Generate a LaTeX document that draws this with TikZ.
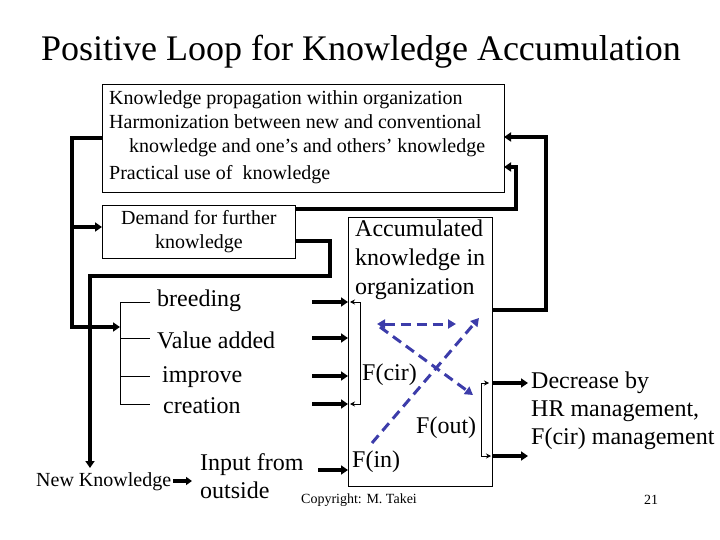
\documentclass[tikz,border=0pt]{standalone}
\usepackage{fontspec}
\setmainfont{Liberation Serif}
\usetikzlibrary{arrows.meta}
\begin{document}
\begin{tikzpicture}[x=1pt,y=-1pt,
  thick line/.style={line width=4pt,-{Triangle[length=7pt,width=9pt]}},
  boxst/.style={draw,line width=0.8pt},
  blue dash/.style={draw={rgb,255:red,60;green,60;blue,170},line width=3pt,dash pattern=on 10pt off 6pt,-{Triangle[length=8pt,width=9pt]}},
  lbl/.style={anchor=west,inner sep=0pt,font=\fontsize{24}{28}\selectfont}]
\useasboundingbox (0,0) rectangle (720,540);
\node[font=\fontsize{36}{40}\selectfont] (title) at (361,52) {Positive Loop for Knowledge Accumulation};
% top box
\draw[boxst] (102,84) rectangle (504,192);
\coordinate (topL) at (102,138);
\node[anchor=north west,inner sep=0pt,align=left,font=\fontsize{20}{24}\selectfont] (toptext) at (109,90)
 {Knowledge propagation within organization\\Harmonization between new and conventional\\\hspace*{20pt}knowledge and one’s and others’ knowledge\\[3pt]Practical use of\ \ knowledge};
% demand box
\node[boxst,minimum width=193pt,minimum height=53pt,inner sep=0pt,align=center,font=\fontsize{20}{24}\selectfont,anchor=north west] (dem) at (102,205) {Demand for further\\knowledge};
% accumulated box
\draw[boxst] (348,217) rectangle (492,486);
\node[anchor=north west,inner sep=0pt,align=left,font=\fontsize{24}{29}\selectfont] (acc) at (355,220) {Accumulated\\knowledge in\\organization};
% bracket left
\draw[line width=0.8pt] (150,302)--(120,302)--(120,404)--(150,404) (120,338)--(150,338) (120,376)--(150,376);
\node[lbl] (b1) at (157,301) {breeding};
\node[lbl] (b2) at (157,340) {Value added};
\node[lbl] (b3) at (162,377) {improve};
\node[lbl] (b4) at (163,406) {creation};
\foreach \y in {302,338,376,404} \draw[thick line] (312,\y)--(348,\y);
% left loop
\draw[thick line] (topL)--(72,138)--(72,327)--(120,327);
\draw[thick line] (72,227)--(dem.west|-72,227);
\draw[thick line] (295,241)--(330,241)--(330,276)--(90,276)--(90,468);
\node[anchor=west,inner sep=0pt,font=\fontsize{20}{22}\selectfont] (nk) at (36,482) {New Knowledge};
\draw[line width=4pt,-{Triangle[length=6pt,width=8pt]}] (173,481)--(192,481);
\node[lbl,align=left,font=\fontsize{24}{28}\selectfont] (inp) at (200,476) {Input from\\outside};
\draw[thick line] (318,470)--(348,470);
% right loops
\draw[thick line] (295,209)--(516,209)--(516,167)--(504,167);
\draw[thick line] (492,310)--(546,310)--(546,137)--(504,137);
% inner brackets
\draw[line width=0.8pt,{Stealth[length=5pt,width=5pt]}-{Stealth[length=5pt,width=5pt]}] (350,302)--(360,302)--(360,404)--(350,404);
\draw[line width=0.8pt,{Stealth[length=5pt,width=5pt]}-{Stealth[length=5pt,width=5pt]}] (489,383)--(481,383)--(481,456)--(491,456);
\draw[thick line] (492,383)--(528,383);
\draw[thick line] (492,456)--(528,456);
\node[anchor=north west,inner sep=0pt,align=left,font=\fontsize{24}{28}\selectfont] (dec) at (531,372) {Decrease by\\HR management,\\F(cir) management};
% labels in acc
\node[lbl] (fcir) at (362,375) {F(cir)};
\node[lbl] (fout) at (416,428) {F(out)};
\node[lbl] (fin) at (352,462) {F(in)};
% blue dashed
\draw[blue dash,{Triangle[length=8pt,width=9pt]}-{Triangle[length=8pt,width=9pt]}] (377,324)--(456,324);
\draw[blue dash] (380,327)--(473,395);
\draw[blue dash] (372,443)--(479,318);
\node[font=\fontsize{14}{16}\selectfont] (copy) at (359,500) {Copyright: M. Takei};
\node[font=\fontsize{14}{16}\selectfont] (num) at (651,500) {21};
\end{tikzpicture}
\end{document}
